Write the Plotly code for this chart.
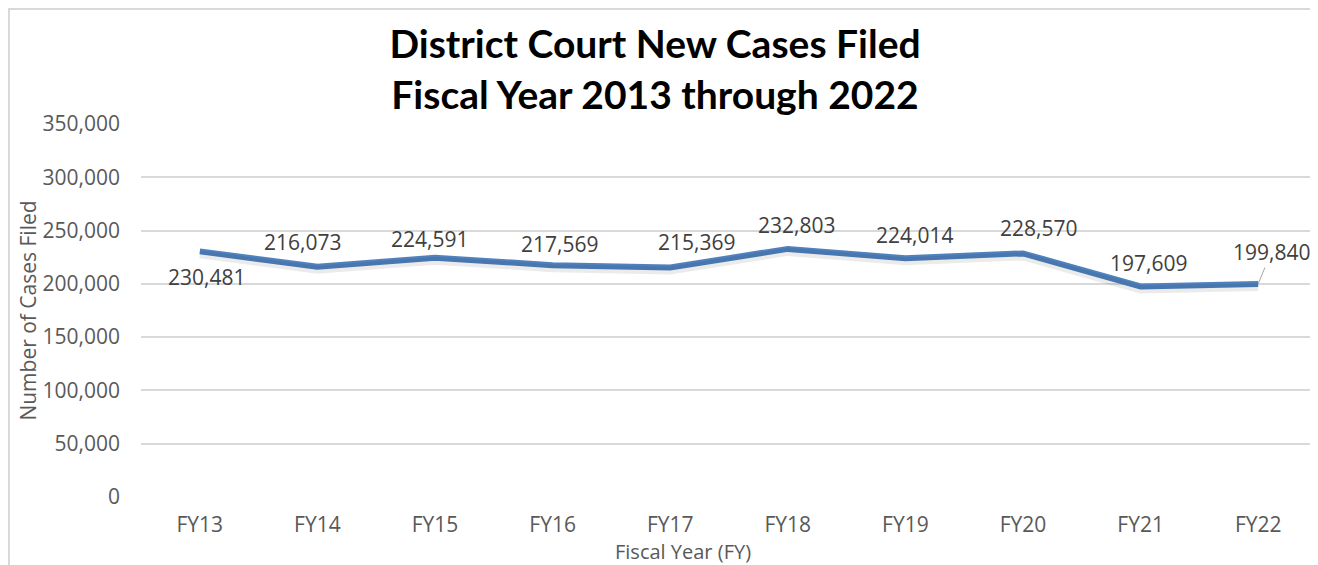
import plotly.graph_objects as go

categories = ["FY13", "FY14", "FY15", "FY16", "FY17", "FY18", "FY19", "FY20", "FY21", "FY22"]
cases = [230481, 216073, 224591, 217569, 215369, 232803, 224014, 228570, 197609, 199840]
y_ticks = [0, 50000, 100000, 150000, 200000, 250000, 300000, 350000]
y_tick_text = ["0", "50,000", "100,000", "150,000", "200,000", "250,000", "300,000", "350,000"]

# label placement (style only): pixel offsets of each data label from its point
label_dx = [7, -15, -6, 7, 26, 9, 9, 15, 8, 13]
label_dy = [26, -25, -19, -21, -25, -24, -23, -25, -23, -32]

# page has an 8px body margin; figure coordinates are page coordinates minus 8
W, H = 1310, 575
L, R, T, B = 133, 1, 116, 86
pw = W - L - R
ph = H - T - B
YMAX = 350000
shadow_px = 3
shadow_shift = shadow_px * YMAX / ph

fig = go.Figure()
# soft shadow under the line (same data on a slightly shifted overlay axis)
fig.add_trace(go.Scatter(
    x=categories, y=cases, mode="lines", yaxis="y2",
    line=dict(color="rgba(0,0,0,0.08)", width=8), hoverinfo="skip", showlegend=False,
))
fig.add_trace(go.Scatter(
    x=categories, y=cases, mode="lines",
    line=dict(color="#4f81bd", width=6), hoverinfo="skip", showlegend=False,
))

label_font = dict(family="Open Sans, Lato, sans-serif", size=21, color="#404040")
for i, (c, v) in enumerate(zip(categories, cases)):
    txt = f"{v:,}"
    if i == len(categories) - 1:
        fig.add_annotation(x=c, y=v, text=txt, showarrow=True, arrowhead=0,
                           arrowwidth=1, arrowcolor="#a6a6a6",
                           ax=label_dx[i], ay=label_dy[i],
                           font=label_font, xanchor="center", yanchor="middle")
    else:
        fig.add_annotation(x=c, y=v, text=txt, showarrow=False, font=label_font,
                           xshift=label_dx[i], yshift=-label_dy[i])

# x axis title (centred under the chart as in the original)
fig.add_annotation(xref="paper", yref="paper", x=(675 - L) / pw, y=(H - B - 543) / ph,
                   text="Fiscal Year (FY)", showarrow=False, xanchor="center", yanchor="middle",
                   font=dict(family="Open Sans, Lato, sans-serif", size=20, color="#595959"))

# chart border
fig.add_shape(type="rect", xref="paper", yref="paper",
              x0=(1 - L) / pw, x1=(W - 3 - L) / pw,
              y0=(-40 - B) / ph, y1=(H - 1 - B) / ph,
              line=dict(color="#d9d9d9", width=2), fillcolor="rgba(0,0,0,0)", layer="below")

fig.update_layout(
    width=W, height=H,
    margin=dict(l=L, r=R, t=T, b=B),
    paper_bgcolor="white", plot_bgcolor="white",
    title=dict(text="<b>District Court New Cases Filed<br>Fiscal Year 2013 through 2022</b>",
               x=647 / W, xanchor="center", y=1 - 50 / H, yanchor="middle",
               font=dict(family="Lato, Open Sans, sans-serif", size=39, color="#000000")),
    font=dict(family="Open Sans, Lato, sans-serif", color="#595959"),
    yaxis2=dict(overlaying="y", range=[shadow_shift, YMAX + shadow_shift],
                visible=False, showgrid=False),
)
fig.update_xaxes(
    type="category", range=[-0.5, 9.5], showgrid=False, zeroline=False,
    showline=False, ticks="", tickfont=dict(size=21, color="#595959"),
    ticklabelstandoff=13,
)
fig.update_layout(yaxis=dict(
    range=[0, YMAX], tickvals=y_ticks, ticktext=y_tick_text,
    showgrid=True, gridcolor="#d9d9d9", gridwidth=1.5, zeroline=False,
    showline=False, ticks="", tickfont=dict(size=21, color="#595959"),
    ticklabelstandoff=20,
    title=dict(text="Number of Cases Filed", font=dict(size=21, color="#595959"), standoff=0),
))

fig.write_html("out.html")
